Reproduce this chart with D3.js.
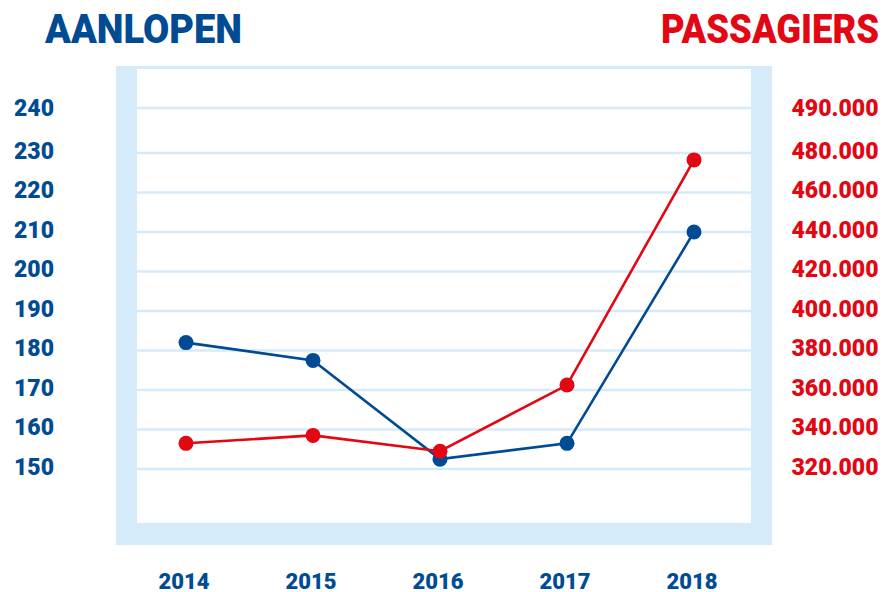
<!DOCTYPE html>
<html>
<head>
<meta charset="utf-8">
<script src="https://cdn.jsdelivr.net/npm/d3@7"></script>
<style>
  body { margin: 0; background: #fff; }
  text { font-family: Roboto, "Liberation Sans", sans-serif; font-weight: 900; }
</style>
</head>
<body>
<div id="chart"></div>
<script>
// data
const years = ["2014", "2015", "2016", "2017", "2018"];
const aanlopen = [182, 177.5, 152.5, 156.5, 210];
const passagiers = [333000, 337000, 329000, 362500, 476500];
const leftTicks = [150, 160, 170, 180, 190, 200, 210, 220, 230, 240];
const rightTicks = [320000, 340000, 360000, 380000, 400000, 420000, 440000, 460000, 480000, 490000];

const blue = "#004b93", red = "#e30613", light = "#d5ebfa";
const width = 887, height = 592;

const svg = d3.select("#chart").append("svg")
  .attr("width", width)
  .attr("height", height);

// frame
svg.append("rect")
  .attr("x", 116).attr("y", 66)
  .attr("width", 656).attr("height", 479)
  .attr("fill", light);
svg.append("rect")
  .attr("x", 137).attr("y", 69)
  .attr("width", 614).attr("height", 454)
  .attr("fill", "#fff");

// scales (top tick is squeezed in, so polylinear)
const x = d3.scalePoint().domain(years).range([186, 694]);
const yL = d3.scaleLinear().domain([150, 230, 240]).range([469, 153, 108]);
const yR = d3.scaleLinear().domain([320000, 480000, 490000]).range([469, 153, 108]);

// gridlines
svg.append("g").selectAll("line")
  .data(leftTicks)
  .join("line")
    .attr("x1", 137).attr("x2", 751)
    .attr("y1", d => yL(d)).attr("y2", d => yL(d))
    .attr("stroke", light)
    .attr("stroke-width", 2.7);

// left axis labels
svg.append("g").selectAll("text")
  .data(leftTicks)
  .join("text")
    .attr("x", 34)
    .attr("y", d => yL(d) - (d == 240 ? 0 : 2.5))
    .attr("dy", "0.35em")
    .attr("text-anchor", "middle")
    .attr("fill", blue)
    .style("font-size", "23px")
    .text(d => d);

// right axis labels
const fmt = d3.formatLocale({decimal: ",", thousands: ".", grouping: [3], currency: ["", ""]}).format(",");
svg.append("g").selectAll("text")
  .data(rightTicks)
  .join("text")
    .attr("x", 835)
    .attr("y", d => yR(d) - (d == 490000 ? 0 : 2.5))
    .attr("dy", "0.35em")
    .attr("text-anchor", "middle")
    .attr("fill", red)
    .style("font-size", "23px")
    .text(d => fmt(d));

// x labels
svg.append("g").selectAll("text")
  .data(years)
  .join("text")
    .attr("x", d => x(d) - 2)
    .attr("y", 589)
    .attr("text-anchor", "middle")
    .attr("fill", blue)
    .style("font-size", "22px")
    .text(d => d);

// titles
svg.append("text")
  .attr("x", 45).attr("y", 43)
  .attr("fill", blue)
  .attr("textLength", 197)
  .attr("lengthAdjust", "spacingAndGlyphs")
  .style("font-size", "41px")
  .text("AANLOPEN");
svg.append("text")
  .attr("x", 661).attr("y", 43)
  .attr("fill", red)
  .attr("textLength", 218)
  .attr("lengthAdjust", "spacingAndGlyphs")
  .style("font-size", "41px")
  .text("PASSAGIERS");

// lines
function drawSeries(values, y, color) {
  const line = d3.line()
    .x((d, i) => x(years[i]))
    .y(d => y(d));
  svg.append("path")
    .datum(values)
    .attr("fill", "none")
    .attr("stroke", color)
    .attr("stroke-width", 2.6)
    .attr("d", line);
  svg.append("g").selectAll("circle")
    .data(values)
    .join("circle")
      .attr("cx", (d, i) => x(years[i]))
      .attr("cy", d => y(d))
      .attr("r", 7.5)
      .attr("fill", color);
}

drawSeries(aanlopen, yL, blue);
drawSeries(passagiers, yR, red);
</script>
</body>
</html>
